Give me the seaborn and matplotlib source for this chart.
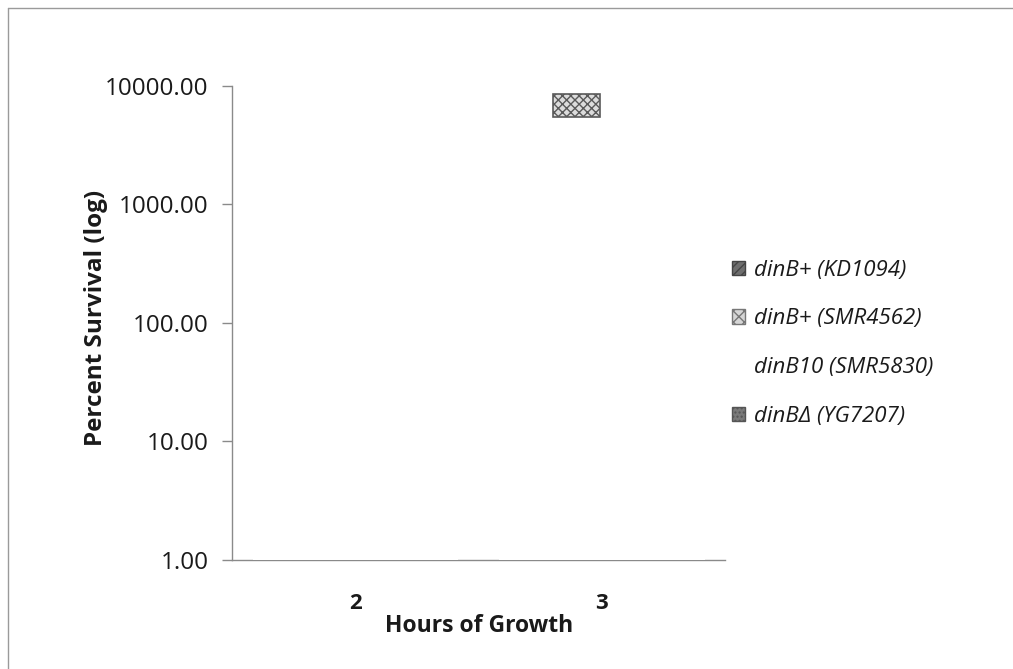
import matplotlib
matplotlib.use("Agg")
import matplotlib.pyplot as plt
import seaborn as sns
import pandas as pd
from matplotlib.patches import Patch, Rectangle
from matplotlib.ticker import FixedLocator, FixedFormatter

# ---- data (read / estimated from the scanned reference) ----
hours = ["2", "3"]
strains = ["dinB+ (KD1094)", "dinB+ (SMR4562)", "dinB10 (SMR5830)", "dinBΔ (YG7207)"]
survival_2h = [100.0, 120.0, 300.0, 90.0]
survival_3h = [5000.0, 8560.0, 2000.0, 1400.0]
# part of the SMR4562 3 h bar that is still visible in the faded scan
visible_band_bottom = 5490.0
y_ticks = [1, 10, 100, 1000, 10000]
y_tick_labels = ["1.00", "10.00", "100.00", "1000.00", "10000.00"]

rows = []
for h, vals in zip(hours, [survival_2h, survival_3h]):
    for s, v in zip(strains, vals):
        rows.append({"Hours": h, "Strain": s, "Survival": v})
df = pd.DataFrame(rows)

sns.set_theme(style="white")
plt.rcParams["font.family"] = ["Open Sans", "DejaVu Sans"]

fig = plt.figure(figsize=(10.13, 6.69), dpi=100)
ax = fig.add_axes([0.229, 0.163, 0.487, 0.7085])

# bars are washed out (white) in the scan; they hide the baseline under them
sns.barplot(data=df, x="Hours", y="Survival", hue="Strain", order=hours,
            hue_order=strains, palette=["white"] * 4, width=0.833,
            saturation=1, edgecolor="none", linewidth=0, errorbar=None,
            legend=False, ax=ax, zorder=3)
ax.set_yscale("log")
ax.set_ylim(1, 10000)
ax.set_xlim(-0.5, 1.5)

# visible top of the SMR4562 bar at 3 h
bar_idx = 1 * len(hours) + 1  # hue index 1, category index 1
p = ax.patches[bar_idx]
top = df[(df.Hours == "3") & (df.Strain == strains[1])].Survival.iloc[0]
ax.add_patch(Rectangle((p.get_x() + 0.01, visible_band_bottom),
                       p.get_width() - 0.02, top - visible_band_bottom,
                       facecolor="#dcdcdc", edgecolor="#5a5a5a", hatch="xxxx",
                       linewidth=1.2, zorder=4))

# axes styling
for side in ["top", "right"]:
    ax.spines[side].set_visible(False)
ax.spines["left"].set_color("#8a8a8a")
ax.spines["bottom"].set_color("#8a8a8a")
ax.spines["left"].set_linewidth(1.0)
ax.spines["bottom"].set_linewidth(1.0)
ax.yaxis.set_major_locator(FixedLocator(y_ticks))
ax.yaxis.set_major_formatter(FixedFormatter(y_tick_labels))
ax.yaxis.set_minor_locator(FixedLocator([]))
ax.tick_params(axis="y", which="major", left=True, length=7, width=1,
               color="#8a8a8a", labelsize=17.5, labelcolor="#1a1a1a", pad=10)
ax.tick_params(axis="x", bottom=False, labelsize=16, labelcolor="#1a1a1a", pad=18)
for t in ax.get_xticklabels():
    t.set_fontweight("bold")

ax.set_xlabel("Hours of Growth", fontsize=16.5, fontweight="bold", labelpad=0,
              color="#1a1a1a")
ax.set_ylabel("Percent Survival (log)", fontsize=17.5, fontweight="bold",
              color="#1a1a1a")
ax.yaxis.set_label_coords(-0.252, 0.51)

# legend
handle_styles = [
    dict(facecolor="#6e6e6e", edgecolor="#444444", hatch="////"),
    dict(facecolor="#d6d6d6", edgecolor="#777777", hatch="xxx"),
    dict(facecolor="white", edgecolor="white"),
    dict(facecolor="#7a7a7a", edgecolor="#555555", hatch="...."),
]
handles = [Patch(label=s, **st) for s, st in zip(strains, handle_styles)]
leg = fig.legend(handles=handles, loc="center left",
                 bbox_to_anchor=(0.703, 0.487), frameon=False,
                 prop={"size": 16, "style": "italic"},
                 handlelength=0.6, handleheight=0.6, handletextpad=0.4,
                 labelspacing=1.25, labelcolor="#1a1a1a")

# scan border (left and top edges)
fig.add_artist(plt.Line2D([0.008, 0.008], [0.0, 0.988], transform=fig.transFigure,
                          color="#9a9a9a", linewidth=1))
fig.add_artist(plt.Line2D([0.008, 1.0], [0.988, 0.988], transform=fig.transFigure,
                          color="#9a9a9a", linewidth=1))

fig.savefig("out.png", dpi=100)
